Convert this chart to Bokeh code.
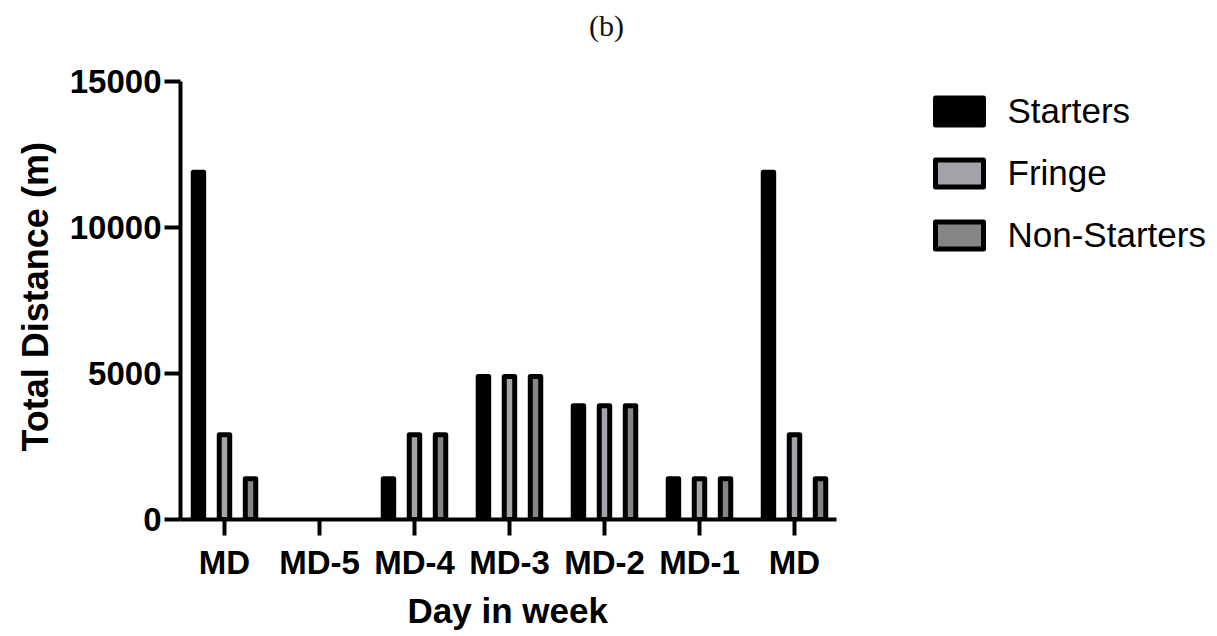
from bokeh.plotting import figure
from bokeh.models import ColumnDataSource, FixedTicker, Legend, LegendItem, Label, Range1d, Title
from bokeh.transform import dodge
from bokeh.embed import file_html
from bokeh.resources import INLINE

days = ["MD", "MD-5", "MD-4", "MD-3", "MD-2", "MD-1", "MD"]
starters = [11900, None, 1400, 4900, 3900, 1400, 11900]
fringe = [2900, None, 2900, 4900, 3900, 1400, 2900]
non_starters = [1400, None, 2900, 4900, 3900, 1400, 1400]
series_names = ["Starters", "Fringe", "Non-Starters"]
series_colors = ["#000000", "#a3a3a9", "#858585"]
y_ticks = [0, 5000, 10000, 15000]
title_text = "(b)"
x_title = "Day in week"
y_title = "Total Distance (m)"


def clean(vals):
    return [float("nan") if v is None else v for v in vals]


source = ColumnDataSource(dict(
    x=list(range(len(days))),
    starters=clean(starters),
    fringe=clean(fringe),
    non=clean(non_starters),
))

W, H = 1210, 635
p = figure(width=W, height=H, output_backend="svg", toolbar_location=None,
           x_range=Range1d(-0.463, 10.379), y_range=Range1d(0, 17782),
           min_border_left=180, min_border_right=0, min_border_top=0,
           min_border_bottom=114)

offsets = [-0.274, 0.0, 0.274]
cols = ["starters", "fringe", "non"]
renderers = []
for off, col, color in zip(offsets, cols, series_colors):
    r = p.vbar(x=dodge("x", off, range=p.x_range), top=col, width=0.11, bottom=0,
               source=source, fill_color=color, line_color="black",
               line_width=5, line_join="round")
    renderers.append(r)

p.xgrid.visible = False
p.ygrid.visible = False
p.outline_line_color = None

for ax in (p.xaxis[0], p.yaxis[0]):
    ax.axis_line_width = 4
    ax.axis_line_color = "black"
    ax.major_tick_line_width = 4
    ax.major_tick_line_color = "black"
    ax.major_tick_out = 16
    ax.major_tick_in = 0
    ax.minor_tick_line_color = None
    ax.major_label_text_font = "Liberation Sans"
    ax.major_label_text_font_size = "33px"
    ax.major_label_text_font_style = "bold"
    ax.major_label_text_color = "black"

p.xaxis.bounds = (-0.463, 6.44)
p.yaxis.bounds = (0, 15000)
p.xaxis.ticker = FixedTicker(ticks=list(range(len(days))))
p.xaxis.major_label_overrides = {i: d for i, d in enumerate(days)}
p.yaxis.ticker = FixedTicker(ticks=y_ticks)
p.xaxis.major_label_standoff = 8
p.yaxis.major_label_standoff = 3

legend = Legend(items=[LegendItem(label=n, renderers=[r]) for n, r in zip(series_names, renderers)],
                location=(748.5, 264), padding=0, spacing=22, glyph_width=60,
                glyph_height=34, label_standoff=19, label_text_font="Liberation Sans",
                label_text_font_size="35px", label_text_color="black",
                border_line_color=None, background_fill_alpha=0)
p.add_layout(legend)

title = Label(x=426, y=494, x_units="screen", y_units="screen", text=title_text,
              text_align="center", text_baseline="middle", text_font="Liberation Serif",
              text_font_size="30px", text_color="#111111")
p.add_layout(title)

xt = Title(text=x_title, align="left", offset=227, text_font="Liberation Sans",
           text_font_size="35px", text_font_style="bold", text_color="black", standoff=11)
p.add_layout(xt, "below")

yt = Title(text=y_title, align="left", offset=68, text_font="Liberation Sans",
           text_font_size="36px", text_font_style="bold", text_color="black", standoff=21)
p.add_layout(yt, "left")

open("out.html", "w").write(file_html(p, INLINE))
